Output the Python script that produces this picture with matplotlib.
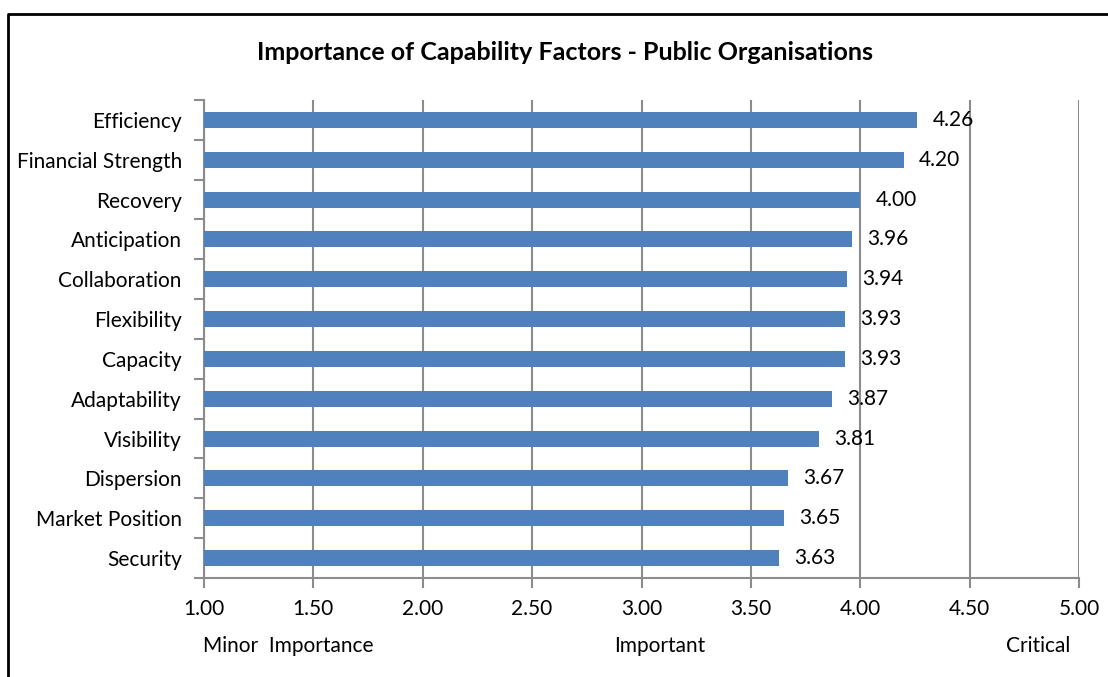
import matplotlib
matplotlib.use("Agg")
import matplotlib.pyplot as plt
from matplotlib.lines import Line2D

categories = ["Efficiency", "Financial Strength", "Recovery", "Anticipation",
              "Collaboration", "Flexibility", "Capacity", "Adaptability",
              "Visibility", "Dispersion", "Market Position", "Security"]
values = [4.26, 4.20, 4.00, 3.96, 3.94, 3.93, 3.93, 3.87, 3.81, 3.67, 3.65, 3.63]
xticks = [1.0, 1.5, 2.0, 2.5, 3.0, 3.5, 4.0, 4.5, 5.0]
title = "Importance of Capability Factors - Public Organisations"
scale_labels = ["Minor  Importance", "Important", "Critical"]

plt.rcParams['font.family'] = ['Lato', 'DejaVu Sans']

W, H = 1108, 677
fig = plt.figure(figsize=(W / 100, H / 100), dpi=100)
ax = fig.add_axes([204 / W, 1 - 578 / H, (1079 - 204) / W, (578 - 100) / H])

n = len(categories)
ypos = list(range(n))[::-1]
bar_color = "#4f81bd"
grid_color = "#8c8c8c"
fs = 15

ax.barh(ypos, [v - 1.0 for v in values], left=1.0, height=0.4,
        color=bar_color, zorder=3)
for y, v in zip(ypos, values):
    ax.annotate(f"{v:.2f}", xy=(v, y), xytext=(11, 0), textcoords="offset points",
                va="center", ha="left", fontsize=fs, color="black", zorder=4)

ax.set_xlim(1.0, 5.0)
ax.set_ylim(-0.5, n - 0.5)
ax.set_xticks(xticks)
ax.set_xticklabels([f"{t:.2f}" for t in xticks], fontsize=fs)
ax.set_yticks(ypos)
ax.set_yticklabels(categories, fontsize=fs)
ax.tick_params(axis="y", length=0, pad=16)
ax.set_yticks([i - 0.5 for i in range(n + 1)], minor=True)
ax.tick_params(axis="y", which="minor", length=7, width=1.5, color=grid_color)
ax.tick_params(axis="x", length=7, width=1.5, color=grid_color, pad=8)

ax.grid(axis="x", color=grid_color, linewidth=1.5, zorder=0)
for s in ["top", "right"]:
    ax.spines[s].set_visible(False)
for s in ["left", "bottom"]:
    ax.spines[s].set_color(grid_color)
    ax.spines[s].set_linewidth(1.5)

fig.text(565 / W, 1 - 52 / H, title, ha="center", va="center",
         fontsize=18, fontweight="bold")
fig.text(203 / W, 1 - 646 / H, scale_labels[0], ha="left", va="center", fontsize=fs)
fig.text(660 / W, 1 - 646 / H, scale_labels[1], ha="center", va="center", fontsize=fs)
fig.text(1070 / W, 1 - 646 / H, scale_labels[2], ha="right", va="center", fontsize=fs)

fig.add_artist(Line2D([8 / W, 8 / W, 1.0], [0.0, 1 - 14 / H, 1 - 14 / H],
                      transform=fig.transFigure, color="black", linewidth=2))

fig.savefig("out.png", dpi=100)
